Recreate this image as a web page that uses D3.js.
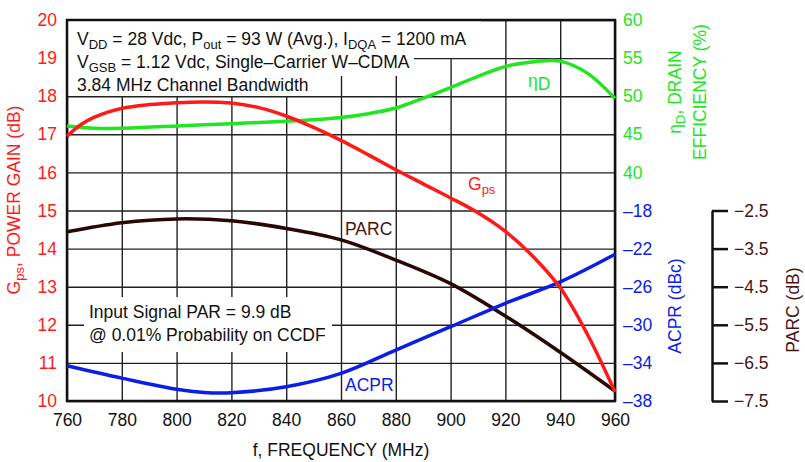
<!DOCTYPE html>
<html><head>
<meta charset="utf-8">
<script src="https://d3js.org/d3.v7.min.js"></script>
<style>
  body { margin: 0; background: #fff; }
  text { font-family: "Liberation Sans", Arial, sans-serif; font-size: 17.5px; }
  .grid line { stroke: #222; stroke-width: 1.4; }
  .grid .domain { stroke: none; }
</style>
</head>
<body>
<svg id="chart" width="805" height="462"></svg>
<script>
// ---- data
const freq   = [760, 765, 770, 780, 790, 800, 810, 820, 830, 840, 850, 860, 870, 880, 890, 900, 910, 920, 930, 940, 950, 960];
const gain   = [16.95, 17.25, 17.45, 17.68, 17.78, 17.83, 17.85, 17.82, 17.7, 17.48, 17.18, 16.84, 16.46, 16.07, 15.7, 15.33, 14.94, 14.45, 13.8, 12.97, 11.74, 10.24];
const effFreq = [760, 770, 780, 800, 820, 840, 850, 860, 870, 880, 890, 900, 910, 920, 930, 935, 940, 950, 960];
const eff    = [46.1, 45.8, 45.8, 46.1, 46.4, 46.7, 46.9, 47.2, 47.7, 48.45, 49.75, 51.15, 52.6, 53.9, 54.5, 54.65, 54.6, 53.0, 49.7];
const acprFreq = [760, 780, 800, 810, 820, 840, 860, 880, 900, 920, 940, 960];
const acpr   = [-34.3, -35.6, -36.77, -37.1, -37.13, -36.5, -35.1, -32.65, -30.2, -27.74, -25.5, -22.6];
const parcFreq = [760, 780, 800, 820, 840, 860, 880, 900, 920, 940, 960];
const parc   = [-3.06, -2.82, -2.72, -2.77, -2.97, -3.27, -3.8, -4.42, -5.27, -6.22, -7.24];

const xTicks    = [760, 780, 800, 820, 840, 860, 880, 900, 920, 940, 960];
const gainTicks = [10, 11, 12, 13, 14, 15, 16, 17, 18, 19, 20];
const effTicks  = [40, 45, 50, 55, 60];
const acprTicks = [-38, -34, -30, -26, -22, -18];
const parcTicks = [-7.5, -6.5, -5.5, -4.5, -3.5, -2.5];

const RED = "#ff1a1a", GREEN = "#22e522", BLUE = "#0a1ee6", BROWN = "#2a0606", BROWNTXT = "#4a1414";

const svg = d3.select("#chart");
const margins = {top: 20, left: 67};
const chartWidth = 548, chartHeight = 381;

const xScale = d3.scaleLinear().domain([760, 960]).range([margins.left, margins.left + chartWidth]);
const gainScale = d3.scaleLinear().domain([10, 20]).range([margins.top + chartHeight, margins.top]);
const effScale = d3.scaleLinear().domain([10, 60]).range([margins.top + chartHeight, margins.top]);
const acprScale = d3.scaleLinear().domain([-38, 2]).range([margins.top + chartHeight, margins.top]);
const parcScale = d3.scaleLinear().domain([-7.5, -2.5]).range([margins.top + chartHeight, gainScale(15)]);

// gridlines
svg.append("g").attr("class", "grid")
   .attr("transform", `translate(0, ${margins.top + chartHeight})`)
   .call(d3.axisBottom(xScale).tickValues(xTicks).tickSize(-chartHeight).tickFormat(""));
svg.append("g").attr("class", "grid")
   .attr("transform", `translate(${margins.left}, 0)`)
   .call(d3.axisLeft(gainScale).tickValues(gainTicks).tickSize(-chartWidth).tickFormat(""));

// white boxes behind annotation text
const boxes = [
  [margins.left + 1, margins.top + 1, 413, 37],
  [margins.left + 1, 57, 346, 19],
  [margins.left + 1, 75, 246, 21],
  [84, 297, 248, 55]
];
svg.selectAll("rect.box").data(boxes).join("rect").attr("class", "box")
   .attr("x", d => d[0]).attr("y", d => d[1]).attr("width", d => d[2]).attr("height", d => d[3])
   .attr("fill", "#fff");

// frame
svg.append("rect").attr("x", margins.left).attr("y", margins.top)
   .attr("width", chartWidth).attr("height", chartHeight)
   .attr("fill", "none").attr("stroke", "#111").attr("stroke-width", 2.5);

// curves
function drawCurve(xs, ys, yScale, color) {
  const line = d3.line().x((d, i) => xScale(xs[i])).y(d => yScale(d)).curve(d3.curveCatmullRom.alpha(0.5));
  svg.append("path").datum(ys).attr("d", line)
     .attr("fill", "none").attr("stroke", color).attr("stroke-width", 3.5);
}
drawCurve(parcFreq, parc, parcScale, BROWN);
drawCurve(acprFreq, acpr, acprScale, BLUE);
drawCurve(effFreq, eff, effScale, GREEN);
drawCurve(freq, gain, gainScale, RED);

// axes labels
function tickText(g, color) {
  g.select(".domain").remove();
  g.selectAll("line").remove();
  g.selectAll("text").attr("fill", color).style("font-size", "17.5px")
   .style("font-family", '"Liberation Sans", Arial, sans-serif');
}
const minus = d => String(d).replace("-", "\u2013");

svg.append("g").attr("transform", `translate(${margins.left - 2}, 0)`)
   .call(d3.axisLeft(gainScale).tickValues(gainTicks).tickSize(0).tickPadding(8))
   .call(g => tickText(g, RED));
svg.append("g").attr("transform", `translate(0, ${margins.top + chartHeight})`)
   .call(d3.axisBottom(xScale).tickValues(xTicks).tickSize(0).tickPadding(13))
   .call(g => tickText(g, "#111"));
svg.append("g").attr("transform", `translate(${margins.left + chartWidth + 1}, 0)`)
   .call(d3.axisRight(effScale).tickValues(effTicks).tickSize(0).tickPadding(7))
   .call(g => tickText(g, GREEN));
svg.append("g").attr("transform", `translate(${margins.left + chartWidth + 1}, 0)`)
   .call(d3.axisRight(acprScale).tickValues(acprTicks).tickSize(0).tickPadding(7).tickFormat(minus))
   .call(g => tickText(g, BLUE));

// separate PARC axis
const parcAxis = svg.append("g").attr("transform", "translate(712, 0)")
   .call(d3.axisRight(parcScale).tickValues(parcTicks).tickSize(16).tickSizeOuter(0).tickPadding(6)
           .tickFormat(d => minus(d3.format(".1f")(d))));
parcAxis.select(".domain").attr("stroke", "#111").attr("stroke-width", 2.5);
parcAxis.selectAll("line").attr("stroke", "#111").attr("stroke-width", 2.5);
parcAxis.selectAll("text").attr("fill", BROWNTXT).style("font-size", "17.5px");

// axis titles
svg.append("text").attr("x", 341).attr("y", 456).attr("text-anchor", "middle")
   .attr("fill", "#111").text("f, FREQUENCY (MHz)");

function vTitle(cx, cy, color) {
  return svg.append("text").attr("transform", `translate(${cx + 6}, ${cy}) rotate(-90)`)
     .attr("text-anchor", "middle").attr("fill", color);
}
const gt = vTitle(14, 200, RED);
gt.append("tspan").text("G");
gt.append("tspan").attr("dy", 4).style("font-size", "13px").text("ps");
gt.append("tspan").attr("dy", -4).text(", POWER GAIN (dB)");

const et = vTitle(675, 92, GREEN);
et.append("tspan").text("\u03b7");
et.append("tspan").attr("dy", 4).style("font-size", "13px").text("D");
et.append("tspan").attr("dy", -4).text(", DRAIN");
vTitle(700, 92, GREEN).text("EFFICIENCY (%)");
vTitle(675, 306, BLUE).text("ACPR (dBc)");
vTitle(793, 310, BROWNTXT).text("PARC (dB)");

// annotations
function subLine(x, y, parts) {
  const t = svg.append("text").attr("x", x).attr("y", y).attr("fill", "#111");
  parts.forEach(p => {
    if (p[1]) t.append("tspan").attr("dy", 4).style("font-size", "13px").text(p[0]);
    else t.append("tspan").attr("dy", p[2] ? -4 : 0).text(p[0]);
  });
  return t;
}
subLine(77, 45, [["V"], ["DD", true], [" = 28 Vdc, P", false, true], ["out", true], [" = 93 W (Avg.), I", false, true], ["DQA", true], [" = 1200 mA", false, true]]);
subLine(77, 68, [["V"], ["GSB", true], [" = 1.12 Vdc, Single\u2013Carrier W\u2013CDMA", false, true]]);
subLine(77, 91, [["3.84 MHz Channel Bandwidth"]]);
subLine(89, 318, [["Input Signal PAR = 9.9 dB"]]);
subLine(89, 341, [["@ 0.01% Probability on CCDF"]]);

// series labels
const el = svg.append("text").attr("x", 528).attr("y", 87).attr("fill", GREEN);
el.append("tspan").text("\u03b7");
el.append("tspan").attr("dy", 3).text("D");
const gl = svg.append("text").attr("x", 468).attr("y", 190).attr("fill", RED);
gl.append("tspan").text("G");
gl.append("tspan").attr("dy", 4).style("font-size", "13px").text("ps");
svg.append("text").attr("x", 345).attr("y", 235).attr("fill", BROWNTXT).text("PARC");
svg.append("text").attr("x", 345).attr("y", 391).attr("fill", BLUE).text("ACPR");
</script>
</body></html>
